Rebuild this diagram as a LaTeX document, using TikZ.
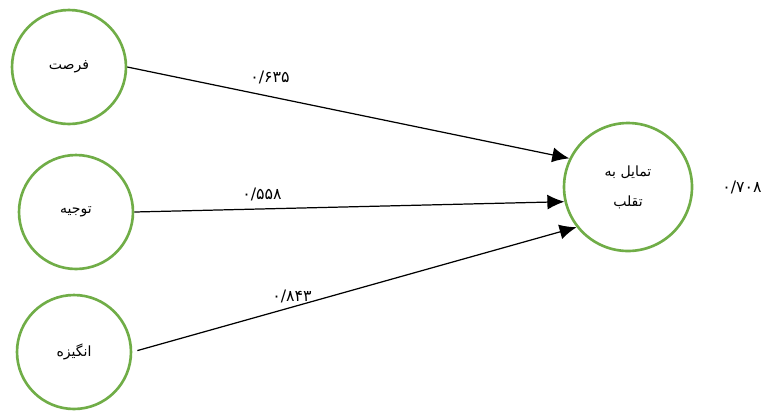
\documentclass[tikz,border=0pt]{standalone}
\usepackage{fontspec}
\newfontfamily\arabicfont[Script=Arabic]{DejaVu Sans}
\TeXXeTstate=1
\usetikzlibrary{arrows.meta}
\definecolor{varGreen}{HTML}{70AD47}
\tikzset{>={Latex[length=3.4mm,width=3mm]},
  var/.style={circle,draw=varGreen,line width=1.5pt,minimum size=2.28cm,
    inner sep=0pt,align=center,font=\arabicfont\fontsize{8}{17}\selectfont},
  path/.style={->,line width=0.7pt},
  coef/.style={font=\arabicfont\fontsize{9}{10}\selectfont}}

\begin{document}
\begin{tikzpicture}[x=0.02cm,y=-0.02cm]
  \useasboundingbox (0,0) rectangle (766,410);

  % latent variables
  \node [var] (opp) at (69,67) {\beginR فرصت\endR};
  \node [var] (rat) at (76,212) {\beginR توجیه\endR};
  \node [var] (mot) at (74,352) {\beginR انگیزه\endR};
  \node [var,minimum size=2.56cm] (ten) at (628,187)
    {\beginR تمایل به\endR\\\beginR تقلب\endR};

  \draw [path] (opp.east) -- (ten.154);
  \draw [path] (rat.east) -- (ten.193);
  \draw [path,shorten <=3pt] (mot.east) -- (ten.218);

  % coefficients
  \node [coef] (c1) at (270,77) {۰/۶۳۵};
  \node [coef] (c2) at (262,194) {۰/۵۵۸};
  \node [coef] (c3) at (292,296) {۰/۸۴۳};
  \node [coef] (r2) at (742,187) {۰/۷۰۸};

\end{tikzpicture}
\end{document}
